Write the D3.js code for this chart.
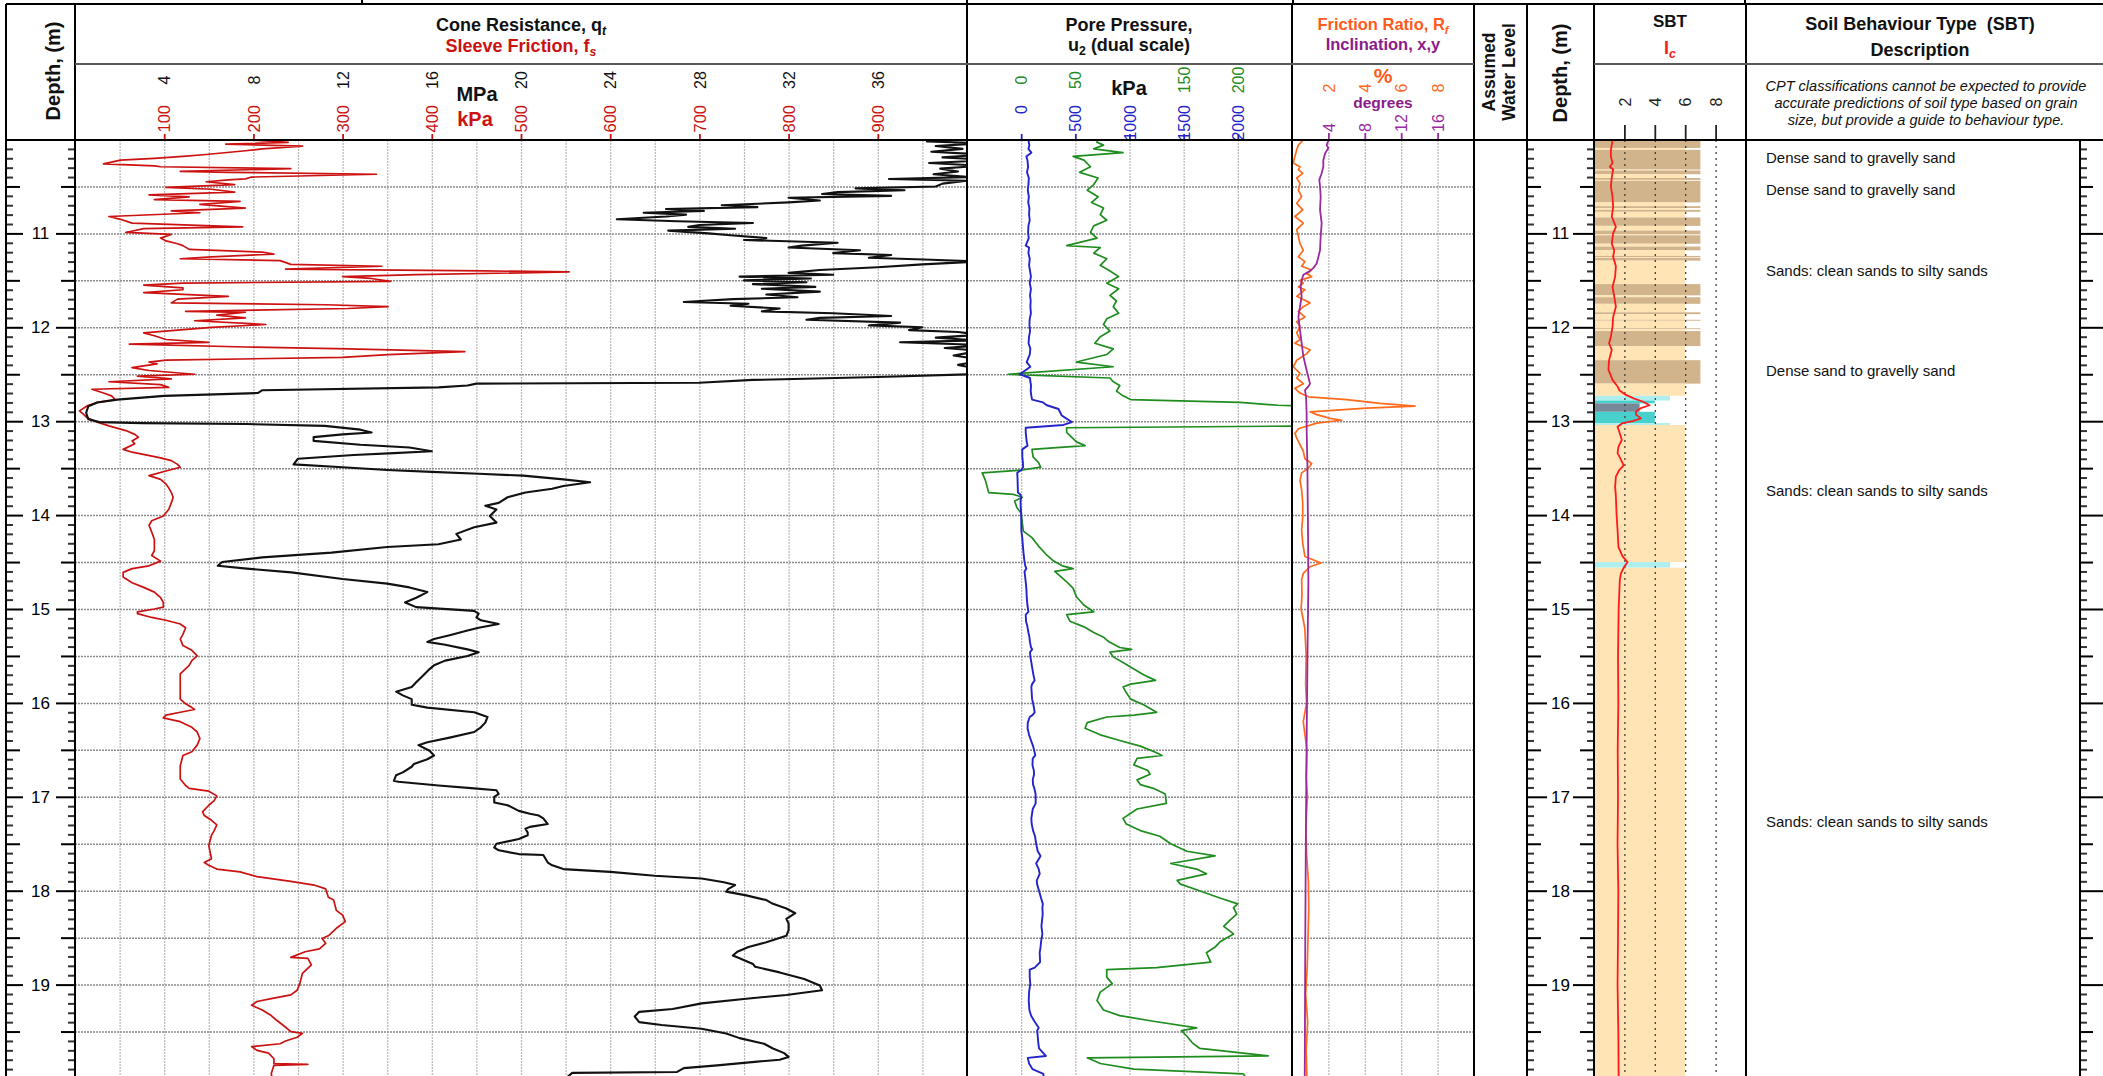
<!DOCTYPE html>
<html>
<head>
<meta charset="utf-8">
<script src="https://cdn.jsdelivr.net/npm/d3@7"></script>
<style>
html,body{margin:0;padding:0;background:#fff;}
svg{display:block;}
text{font-family:"Liberation Sans",Arial,Helvetica,sans-serif;}
</style>
</head>
<body>
<svg id="log" width="2103" height="1076"></svg>
<script>
// ---------- CPT log data (depth in m, value) ----------
const qtData = [[10.00,39.0],[10.02,38.2],[10.04,40.6],[10.07,38.6],[10.10,39.8],[10.13,38.4],[10.16,40.8],[10.19,38.9],[10.22,41.0],[10.25,38.3],[10.28,40.6],[10.31,38.8],[10.34,39.6],[10.37,38.5],[10.40,40.2],[10.42,36.5],[10.44,40.0],[10.47,38.9],[10.50,38.6],[10.52,35.0],[10.54,37.2],[10.56,34.2],[10.58,33.5],[10.60,36.6],[10.62,32.0],[10.65,33.4],[10.67,32.0],[10.70,29.0],[10.72,30.6],[10.74,26.5],[10.76,28.2],[10.78,25.5],[10.80,27.4],[10.82,26.5],[10.85,24.3],[10.87,27.0],[10.89,30.4],[10.91,28.0],[10.93,27.5],[10.95,29.6],[10.97,26.6],[11.00,28.4],[11.02,29.4],[11.05,31.0],[11.07,30.0],[11.10,34.2],[11.13,32.6],[11.15,32.0],[11.18,35.2],[11.21,34.0],[11.23,36.6],[11.26,35.6],[11.28,38.4],[11.30,40.5],[11.33,38.0],[11.36,36.0],[11.39,33.4],[11.42,32.0],[11.44,34.0],[11.46,29.8],[11.48,33.0],[11.50,30.0],[11.52,32.8],[11.54,30.4],[11.57,33.2],[11.59,30.8],[11.62,33.4],[11.65,31.0],[11.68,32.4],[11.70,29.5],[11.73,27.3],[11.75,30.2],[11.77,29.4],[11.80,31.6],[11.83,30.8],[11.85,34.0],[11.88,36.6],[11.90,33.4],[11.92,32.8],[11.95,37.0],[11.98,35.6],[12.00,38.0],[12.03,37.4],[12.05,39.6],[12.08,40.6],[12.11,38.6],[12.14,40.4],[12.16,37.0],[12.19,40.8],[12.22,39.0],[12.25,40.6],[12.30,39.4],[12.35,40.8],[12.40,39.6],[12.45,40.6],[12.50,40.2],[12.53,36.0],[12.56,30.4],[12.59,28.0],[12.60,18.0],[12.62,17.6],[12.64,16.3],[12.67,8.4],[12.70,8.2],[12.73,4.0],[12.77,1.9],[12.80,1.0],[12.84,0.6],[12.91,0.5],[12.98,0.6],[13.01,1.1],[13.02,3.0],[13.03,7.7],[13.05,11.2],[13.09,12.8],[13.12,13.3],[13.14,12.0],[13.17,10.7],[13.21,10.7],[13.25,12.8],[13.28,15.0],[13.32,16.0],[13.34,14.3],[13.36,12.5],[13.40,10.0],[13.46,9.8],[13.49,12.0],[13.52,14.0],[13.54,16.0],[13.56,18.1],[13.58,20.1],[13.62,21.9],[13.65,23.1],[13.69,21.9],[13.72,21.4],[13.76,20.2],[13.81,19.4],[13.87,19.0],[13.90,18.4],[13.94,18.9],[14.01,18.6],[14.08,18.9],[14.13,17.9],[14.20,17.1],[14.26,17.3],[14.31,16.3],[14.34,14.0],[14.40,11.5],[14.45,8.4],[14.50,6.6],[14.54,6.4],[14.57,7.7],[14.61,9.7],[14.68,12.0],[14.73,14.0],[14.77,15.0],[14.82,15.8],[14.88,15.3],[14.93,14.8],[14.98,15.3],[15.02,17.9],[15.05,18.1],[15.09,18.0],[15.12,18.2],[15.16,19.0],[15.20,18.1],[15.23,17.6],[15.28,16.8],[15.32,16.1],[15.35,15.8],[15.38,16.6],[15.43,17.6],[15.46,18.1],[15.50,17.6],[15.55,16.6],[15.60,16.1],[15.64,15.9],[15.71,15.6],[15.78,15.3],[15.83,15.1],[15.88,14.4],[15.92,14.7],[15.96,15.1],[16.02,15.1],[16.05,15.8],[16.10,17.9],[16.15,18.5],[16.21,18.4],[16.26,18.2],[16.31,17.9],[16.37,16.8],[16.42,15.8],[16.45,15.4],[16.51,15.9],[16.56,16.1],[16.60,15.8],[16.65,15.2],[16.68,15.1],[16.74,14.7],[16.77,14.4],[16.83,14.3],[16.84,14.5],[16.88,16.3],[16.91,17.9],[16.93,18.9],[16.97,19.0],[17.00,18.8],[17.06,18.8],[17.09,19.4],[17.15,19.9],[17.18,20.4],[17.20,20.8],[17.23,21.0],[17.29,21.2],[17.32,20.4],[17.34,20.2],[17.38,20.3],[17.41,20.3],[17.45,19.9],[17.50,18.9],[17.54,18.8],[17.57,19.0],[17.61,19.9],[17.62,21.0],[17.70,21.2],[17.73,21.4],[17.77,21.9],[17.80,24.0],[17.84,26.0],[17.87,28.1],[17.91,29.1],[17.94,29.6],[17.98,29.3],[18.01,29.2],[18.05,30.1],[18.10,31.0],[18.14,31.3],[18.19,31.9],[18.24,32.3],[18.30,31.9],[18.35,32.0],[18.42,32.0],[18.48,31.9],[18.55,31.0],[18.60,30.2],[18.65,29.7],[18.69,29.5],[18.72,29.8],[18.78,30.4],[18.81,30.5],[18.87,31.6],[18.94,32.7],[19.01,33.4],[19.06,33.5],[19.11,31.9],[19.15,30.1],[19.20,28.1],[19.26,26.8],[19.29,25.3],[19.34,25.1],[19.40,25.3],[19.43,26.3],[19.47,28.1],[19.52,29.2],[19.57,29.8],[19.63,30.9],[19.68,31.3],[19.73,31.8],[19.77,32.0],[19.80,31.6],[19.82,30.6],[19.86,28.8],[19.89,27.3],[19.93,27.0],[19.94,22.3],[20.00,22.0]];

const fsData = [[10.00,191],[10.03,239],[10.05,169],[10.07,255],[10.10,210],[10.12,191],[10.16,147],[10.18,121],[10.20,89],[10.22,51],[10.26,32],[10.28,89],[10.29,96],[10.31,242],[10.34,118],[10.35,172],[10.37,338],[10.40,198],[10.42,191],[10.43,172],[10.45,147],[10.48,179],[10.51,102],[10.53,153],[10.56,179],[10.59,83],[10.61,128],[10.64,89],[10.66,185],[10.69,140],[10.73,191],[10.76,108],[10.78,140],[10.82,38],[10.85,51],[10.89,64],[10.93,188],[10.95,77],[10.99,57],[11.01,108],[11.05,96],[11.08,102],[11.11,115],[11.13,121],[11.17,128],[11.20,210],[11.22,223],[11.25,153],[11.27,118],[11.29,230],[11.33,242],[11.35,344],[11.38,236],[11.40,459],[11.41,554],[11.44,383],[11.46,300],[11.48,332],[11.51,354],[11.53,121],[11.55,77],[11.58,121],[11.60,121],[11.63,77],[11.67,172],[11.70,115],[11.74,108],[11.76,281],[11.78,351],[11.80,306],[11.83,124],[11.84,191],[11.87,159],[11.90,191],[11.93,134],[11.97,214],[12.00,153],[12.03,115],[12.06,77],[12.09,89],[12.13,102],[12.16,150],[12.18,61],[12.21,191],[12.23,306],[12.26,437],[12.29,351],[12.32,300],[12.35,102],[12.37,83],[12.39,92],[12.43,64],[12.46,83],[12.50,134],[12.52,70],[12.55,108],[12.58,38],[12.61,96],[12.64,105],[12.66,19],[12.70,32],[12.73,41],[12.77,45],[12.80,25],[12.84,13],[12.89,5],[12.93,10],[12.96,13],[13.01,25],[13.05,38],[13.10,57],[13.14,67],[13.17,71],[13.21,64],[13.24,67],[13.30,54],[13.33,64],[13.39,96],[13.42,108],[13.46,115],[13.49,118],[13.53,102],[13.58,83],[13.62,96],[13.67,102],[13.71,105],[13.76,108],[13.81,110],[13.87,108],[13.94,105],[14.01,99],[14.06,86],[14.11,83],[14.18,86],[14.26,89],[14.31,89],[14.38,89],[14.43,86],[14.49,96],[14.54,83],[14.57,64],[14.61,54],[14.66,54],[14.72,64],[14.77,77],[14.82,89],[14.88,96],[14.93,99],[14.98,99],[15.00,89],[15.03,70],[15.05,70],[15.09,86],[15.12,102],[15.16,118],[15.20,124],[15.27,121],[15.32,118],[15.39,121],[15.44,131],[15.50,137],[15.55,131],[15.60,128],[15.69,118],[15.82,118],[15.96,118],[16.01,124],[16.05,131],[16.07,134],[16.10,118],[16.13,102],[16.16,99],[16.20,118],[16.26,131],[16.31,137],[16.38,140],[16.45,137],[16.52,131],[16.56,121],[16.67,118],[16.81,118],[16.88,124],[16.91,128],[16.94,150],[16.99,159],[17.04,156],[17.09,150],[17.16,143],[17.20,145],[17.25,153],[17.30,159],[17.36,156],[17.41,153],[17.52,150],[17.66,153],[17.70,145],[17.73,150],[17.77,159],[17.80,185],[17.85,204],[17.90,242],[17.94,268],[17.98,281],[18.07,284],[18.10,290],[18.21,293],[18.26,300],[18.33,303],[18.40,293],[18.48,284],[18.51,277],[18.56,281],[18.62,274],[18.65,258],[18.71,242],[18.72,261],[18.79,265],[18.88,255],[18.99,252],[19.06,249],[19.11,242],[19.15,220],[19.18,204],[19.22,198],[19.27,210],[19.33,220],[19.38,226],[19.43,233],[19.50,242],[19.52,255],[19.56,249],[19.60,236],[19.63,230],[19.66,198],[19.70,204],[19.73,217],[19.79,223],[19.84,223],[19.85,261],[19.86,223],[19.95,220],[20.00,221]];

const u2Data = [[10.00,71],[10.03,70],[10.06,76],[10.10,67],[10.14,94],[10.18,48],[10.22,58],[10.29,64],[10.35,54],[10.41,71],[10.48,67],[10.54,61],[10.61,71],[10.67,65],[10.73,76],[10.80,73],[10.86,79],[10.92,67],[10.99,64],[11.05,70],[11.13,42],[11.15,73],[11.21,67],[11.27,79],[11.34,73],[11.40,82],[11.46,90],[11.53,79],[11.59,90],[11.66,82],[11.72,88],[11.78,85],[11.85,90],[11.91,79],[11.97,76],[12.04,82],[12.10,73],[12.17,68],[12.23,85],[12.29,79],[12.37,51],[12.42,85],[12.50,-12],[12.54,82],[12.58,85],[12.62,91],[12.68,88],[12.73,94],[12.77,101],[12.80,202],[12.83,237],[12.87,345],[12.94,375],[13.01,468],[13.04,390],[13.07,42],[13.12,42],[13.22,51],[13.26,59],[13.30,10],[13.38,11],[13.44,16],[13.49,18],[13.52,1],[13.55,-36],[13.63,-33],[13.76,-30],[13.78,-7],[13.81,1],[13.85,-6],[13.92,-4],[13.98,0],[14.08,1],[14.17,2],[14.24,10],[14.33,16],[14.43,24],[14.49,30],[14.54,38],[14.57,48],[14.60,31],[14.65,36],[14.71,42],[14.78,48],[14.87,51],[14.96,58],[15.03,67],[15.06,42],[15.13,45],[15.19,58],[15.25,67],[15.30,76],[15.35,81],[15.41,91],[15.43,102],[15.46,82],[15.51,85],[15.57,94],[15.64,104],[15.70,113],[15.76,124],[15.80,101],[15.83,94],[15.89,97],[15.96,101],[16.02,113],[16.10,125],[16.13,104],[16.15,79],[16.21,61],[16.27,59],[16.34,73],[16.40,91],[16.46,110],[16.53,125],[16.56,130],[16.59,107],[16.66,104],[16.72,117],[16.76,119],[16.82,107],[16.87,110],[16.91,122],[16.97,133],[17.07,134],[17.13,107],[17.23,94],[17.29,97],[17.36,110],[17.42,128],[17.50,138],[17.58,153],[17.63,179],[17.71,138],[17.77,162],[17.82,171],[17.89,144],[17.93,147],[17.99,162],[18.08,184],[18.14,200],[18.18,196],[18.25,199],[18.31,193],[18.38,187],[18.46,196],[18.54,184],[18.60,179],[18.66,171],[18.76,175],[18.82,125],[18.84,79],[18.92,79],[18.99,84],[19.08,73],[19.17,70],[19.27,76],[19.33,91],[19.39,122],[19.46,162],[19.49,148],[19.55,153],[19.62,158],[19.68,165],[19.76,228],[19.78,61],[19.84,73],[19.90,104],[19.95,205],[20.00,208]];

const rfData = [[10.01,0.59],[10.06,0.35],[10.11,0.26],[10.18,0.16],[10.25,0.07],[10.29,0.44],[10.32,0.35],[10.36,0.59],[10.41,0.26],[10.47,0.44],[10.54,0.35],[10.61,0.53],[10.68,0.26],[10.75,0.59],[10.82,0.16],[10.89,0.62],[10.96,0.26],[11.03,0.35],[11.11,0.44],[11.18,0.62],[11.25,0.35],[11.30,0.71],[11.35,0.53],[11.39,1.08],[11.43,0.81],[11.46,1.08],[11.50,0.44],[11.53,0.62],[11.57,0.35],[11.60,0.71],[11.67,0.26],[11.74,0.99],[11.78,0.62],[11.83,0.35],[11.89,0.71],[11.94,0.26],[11.99,0.44],[12.06,0.26],[12.13,0.44],[12.17,0.16],[12.24,0.99],[12.28,0.81],[12.35,0.26],[12.42,0.07],[12.49,0.44],[12.54,0.26],[12.60,0.62],[12.65,0.16],[12.70,0.44],[12.74,0.90],[12.77,3.0],[12.81,4.84],[12.84,6.76],[12.86,4.1],[12.90,0.99],[12.93,1.36],[12.97,2.09],[12.99,2.73],[13.02,1.36],[13.08,0.35],[13.13,0.16],[13.18,0.26],[13.25,0.44],[13.32,0.62],[13.40,0.71],[13.45,1.08],[13.50,0.90],[13.55,0.53],[13.63,0.44],[13.73,0.53],[13.87,0.59],[14.02,0.59],[14.16,0.53],[14.30,0.59],[14.44,0.71],[14.51,1.60],[14.55,0.99],[14.62,0.62],[14.69,0.53],[14.85,0.55],[15.00,0.50],[15.20,0.70],[15.50,0.78],[15.80,0.75],[16.00,0.80],[16.20,0.62],[16.50,0.82],[16.80,0.78],[17.00,0.85],[17.30,0.76],[17.60,0.80],[17.90,0.90],[18.20,0.92],[18.50,0.88],[18.80,0.84],[19.10,0.75],[19.40,0.86],[19.70,0.78],[20.00,0.82]];

const inclData = [[10.01,3.99],[10.06,3.81],[10.09,3.99],[10.15,3.63],[10.22,3.44],[10.29,3.44],[10.36,3.26],[10.43,3.00],[10.50,3.08],[10.61,3.15],[10.75,3.08],[10.89,3.26],[11.03,3.15],[11.18,3.08],[11.25,2.90],[11.32,2.71],[11.37,2.34],[11.41,1.80],[11.44,1.25],[11.50,1.06],[11.57,0.95],[11.67,1.06],[11.78,0.88],[11.89,0.70],[12.03,0.88],[12.17,1.06],[12.31,1.25],[12.46,1.61],[12.60,1.98],[12.63,1.80],[12.67,1.43],[12.74,1.54],[12.92,1.61],[13.09,1.61],[13.45,1.69],[13.80,1.72],[14.16,1.76],[14.69,1.80],[15.50,1.70],[16.50,1.60],[17.50,1.52],[18.50,1.46],[19.50,1.42],[20.00,1.40]];

const icData = [[10.01,1.22],[10.11,1.11],[10.18,1.11],[10.25,1.22],[10.29,1.04],[10.32,1.26],[10.40,1.17],[10.50,1.11],[10.61,1.22],[10.72,1.26],[10.82,1.17],[10.93,1.44],[11.00,1.26],[11.11,1.17],[11.18,1.33],[11.25,1.26],[11.35,1.44],[11.46,1.39],[11.57,1.22],[11.67,1.33],[11.78,1.44],[11.89,1.26],[11.99,1.22],[12.10,1.11],[12.17,0.99],[12.24,1.17],[12.35,0.99],[12.45,0.95],[12.56,1.22],[12.63,1.55],[12.67,1.66],[12.72,2.10],[12.76,2.65],[12.79,3.20],[12.83,3.65],[12.86,3.09],[12.90,2.76],[12.93,2.76],[12.97,3.09],[13.00,2.54],[13.02,1.88],[13.06,1.55],[13.11,1.66],[13.20,1.83],[13.27,1.61],[13.34,1.55],[13.41,1.77],[13.47,1.95],[13.52,1.66],[13.59,1.44],[13.70,1.39],[13.80,1.44],[13.98,1.48],[14.16,1.55],[14.34,1.61],[14.44,1.88],[14.50,2.21],[14.55,1.99],[14.62,1.77],[14.69,1.70],[15.00,1.62],[15.50,1.58],[16.00,1.60],[16.50,1.56],[17.00,1.58],[17.50,1.55],[18.00,1.60],[18.50,1.58],[19.00,1.55],[19.50,1.60],[20.00,1.62]];

// SBT zones: [top, bottom, zone]
const sbtLayers = [[10.00,10.09,7],[10.09,10.11,6],[10.11,10.32,7],[10.32,10.33,6],[10.33,10.37,7],[10.37,10.41,6],[10.41,10.43,7],[10.43,10.44,6],[10.44,10.67,7],[10.67,10.71,6],[10.71,10.73,7],[10.73,10.75,6],[10.75,10.77,7],[10.77,10.83,6],[10.83,10.92,7],[10.92,10.97,6],[10.97,11.01,7],[11.01,11.02,6],[11.02,11.11,7],[11.11,11.14,6],[11.14,11.18,7],[11.18,11.24,6],[11.24,11.255,7],[11.255,11.262,6],[11.262,11.29,7],[11.29,11.54,6],[11.54,11.66,7],[11.66,11.68,6],[11.68,11.75,7],[11.75,11.84,6],[11.84,11.86,7],[11.86,11.92,6],[11.92,11.93,7],[11.93,12.01,6],[12.01,12.02,7],[12.02,12.04,6],[12.04,12.20,7],[12.20,12.35,6],[12.35,12.60,7],[12.60,12.73,6],[12.73,12.78,5],[12.78,12.81,4],[12.81,12.90,3],[12.90,13.02,4],[13.02,13.04,5],[13.04,14.50,6],[14.50,14.56,5],[14.56,20.00,6]];
const sbtColours = {3:"#778899",4:"#48d1cc",5:"#afeeee",6:"#ffe4b5",7:"#d2b48c"};

const sbtDescriptions = [[10.19,"Dense sand to gravelly sand"],[10.54,"Dense sand to gravelly sand"],[11.40,"Sands: clean sands to silty sands"],[12.46,"Dense sand to gravelly sand"],[13.74,"Sands: clean sands to silty sands"],[17.27,"Sands: clean sands to silty sands"]];

// tick label values
const mpaTicks = [4,8,12,16,20,24,28,32,36];
const kpaTicks = [100,200,300,400,500,600,700,800,900];
const u2SmallTicks = [0,50,150,200];
const u2LargeTicks = [0,500,1000,1500,2000];
const rfTicks = [2,4,6,8];
const inclTicks = [4,8,12,16];
const icTicks = [2,4,6,8];
const depthLabels = [11,12,13,14,15,16,17,18,19];

// ---------- layout ----------
const PT = 140, PB = 1076;
const COL = {
  depthL:[6,75], main:[75,967], pore:[967,1292], fric:[1292,1474],
  water:[1474,1527], depthR:[1527,1594], sbt:[1594,1746], desc:[1746,2080], depthX:[2080,2103]
};
const FONT = '"Liberation Sans", Arial, Helvetica, sans-serif';

const svg = d3.select("#log");
svg.append("rect").attr("width",2103).attr("height",1076).attr("fill","#fff");

const y = d3.scaleLinear().domain([10,20]).range([139.5,1078.5]);
const xQt = d3.scaleLinear().domain([0,40]).range(COL.main);
const xFs = d3.scaleLinear().domain([0,1000]).range(COL.main);
const xU2L = d3.scaleLinear().domain([-500,2500]).range(COL.pore);
const xU2S = d3.scaleLinear().domain([-50,250]).range(COL.pore);
const xRf = d3.scaleLinear().domain([0,10]).range(COL.fric);
const xInc = d3.scaleLinear().domain([0,20]).range(COL.fric);
const xIc = d3.scaleLinear().domain([0,10]).range(COL.sbt);

// clip paths per panel
const defs = svg.append("defs");
function clip(id, c) {
  defs.append("clipPath").attr("id", id).append("rect")
    .attr("x", c[0]).attr("y", PT).attr("width", c[1]-c[0]).attr("height", PB-PT);
  return `url(#${id})`;
}
const clipMain = clip("c-main", COL.main);
const clipPore = clip("c-pore", COL.pore);
const clipFric = clip("c-fric", COL.fric);
const clipSbt = clip("c-sbt", COL.sbt);

// ---------- SBT zone bars ----------
svg.append("g").attr("clip-path", clipSbt)
  .selectAll("rect").data(sbtLayers).join("rect")
  .attr("x", xIc(0))
  .attr("width", d => xIc(d[2]) - xIc(0))
  .attr("y", d => y(d[0]))
  .attr("height", d => y(d[1]) - y(d[0]))
  .attr("fill", d => sbtColours[d[2]]);

// ---------- grids ----------
const halfMetres = d3.range(21, 40).map(i => i/2);
function vGrid(scale, values, colour, width, dash) {
  const g = svg.append("g").attr("transform", `translate(0,${PT})`)
    .call(d3.axisBottom(scale).tickValues(values).tickSize(PB-PT).tickFormat(""));
  g.select(".domain").remove();
  g.selectAll("line").attr("stroke", colour).attr("stroke-width", width).attr("stroke-dasharray", dash);
}
function hGrid(c) {
  const g = svg.append("g").attr("transform", `translate(${c[0]},0)`)
    .call(d3.axisRight(y).tickValues(halfMetres).tickSize(c[1]-c[0]).tickFormat(""));
  g.select(".domain").remove();
  g.selectAll("line").attr("stroke", "#8c8c8c").attr("stroke-width", 1.5).attr("stroke-dasharray", "2,1");
}
vGrid(xQt, d3.range(2, 40, 2), "#b8b8b8", 1.2, "2,1");
vGrid(xU2L, u2LargeTicks, "#b8b8b8", 1.2, "2,1");
vGrid(xRf, rfTicks, "#b8b8b8", 1.2, "2,1");
hGrid(COL.main); hGrid(COL.pore); hGrid(COL.fric);
vGrid(xIc, icTicks, "#333", 1.2, "2,4");

// ---------- curves ----------
function curve(data, xs, colour, width, clipUrl) {
  svg.append("path").datum(data)
    .attr("clip-path", clipUrl)
    .attr("fill", "none").attr("stroke", colour).attr("stroke-width", width)
    .attr("stroke-linejoin", "round")
    .attr("d", d3.line().x(d => xs(d[1])).y(d => y(d[0])));
}
curve(fsData, xFs, "#cc1111", 1.7, clipMain);
curve(qtData, xQt, "#111", 2.1, clipMain);
curve(u2Data, xU2S, "#1f8c1f", 1.7, clipPore);
curve(u2Data, xU2L, "#2424cc", 1.9, clipPore);
curve(rfData, xRf, "#ff6a1c", 1.7, clipFric);
curve(inclData, xInc, "#9a2aa0", 1.8, clipFric);
curve(icData, xIc, "#ff1a1a", 1.8, clipSbt);

// ---------- descriptions ----------
svg.append("g").selectAll("text").data(sbtDescriptions).join("text")
  .attr("x", 1766).attr("y", d => y(d[0])).attr("dy", "0.35em")
  .attr("font-size", 15).attr("fill", "#111")
  .text(d => d[1]);

// ---------- depth columns ----------
const allDepth = d3.range(101, 200).map(i => i/10);
const isMajor = d => Math.abs(d - Math.round(d)) < 1e-6;
const isHalf = d => !isMajor(d) && Math.abs(d*2 - Math.round(d*2)) < 1e-6;
const majD = allDepth.filter(isMajor);
const midD = allDepth.filter(isHalf);
const minD = allDepth.filter(d => !isMajor(d) && !isHalf(d));

function depthTicks(x, dir, sizes) {
  [[minD, sizes[0], 2, "#333"], [midD, sizes[1], 2, "#000"], [majD, sizes[2], 2, "#000"]].forEach(([vals, len, w, col]) => {
    const ax = (dir === "right" ? d3.axisRight(y) : d3.axisLeft(y)).tickValues(vals).tickSize(len).tickFormat("");
    const g = svg.append("g").attr("transform", `translate(${x},0)`).call(ax);
    g.select(".domain").remove();
    g.selectAll("line").attr("stroke", col).attr("stroke-width", w);
  });
}
function depthLabelAxis(c) {
  const g = svg.append("g").attr("transform", `translate(${c[1]},0)`)
    .call(d3.axisLeft(y).tickValues(depthLabels).tickSize(0).tickFormat(d3.format("d")));
  g.select(".domain").remove();
  g.selectAll("text").attr("x", -(c[1]-c[0])/2).attr("text-anchor", "middle")
    .attr("fill", "#000").style("font", `17px ${FONT}`);
}
depthTicks(COL.depthL[0], "right", [7, 14, 17]);
depthTicks(COL.depthL[1], "left", [7, 14, 19]);
depthLabelAxis(COL.depthL);
depthTicks(COL.depthR[0], "right", [7, 14, 20]);
depthTicks(COL.depthR[1], "left", [7, 14, 21]);
depthLabelAxis(COL.depthR);
depthTicks(COL.depthX[0]+1, "right", [6, 12, 22]);

// ---------- header scales ----------
function labelAxis(scale, values, o) {
  const g = svg.append("g").attr("transform", `translate(0,${PT})`)
    .call(d3.axisTop(scale).tickValues(values).tickSize(o.tick).tickPadding(0).tickFormat(d3.format("d")));
  g.select(".domain").remove();
  g.selectAll(".tick line").attr("stroke", o.colour).attr("stroke-width", 1.8).attr("opacity", o.tick ? 1 : 0);
  g.selectAll(".tick text")
    .attr("x", 0).attr("y", 0).attr("dy", "0.35em")
    .attr("transform", `translate(0,${o.labelY - PT}) rotate(-90)`)
    .attr("text-anchor", o.anchor)
    .attr("fill", o.colour)
    .style("font", `${o.size || 16}px ${FONT}`);
}
labelAxis(xQt, mpaTicks, {tick:0, colour:"#111", labelY:80, anchor:"middle"});
labelAxis(xFs, kpaTicks, {tick:6, colour:"#cc1111", labelY:105, anchor:"end", size:16.5});
labelAxis(xU2S, u2SmallTicks, {tick:0, colour:"#1f8c1f", labelY:80, anchor:"middle"});
labelAxis(xU2L, u2LargeTicks, {tick:6, colour:"#2424cc", labelY:105, anchor:"end"});
labelAxis(xRf, rfTicks, {tick:0, colour:"#ff6a1c", labelY:88, anchor:"middle"});
labelAxis(xInc, inclTicks, {tick:7, colour:"#9a2aa0", labelY:132, anchor:"start"});
labelAxis(xIc, icTicks, {tick:15, colour:"#222", labelY:102, anchor:"middle"});

// ---------- frame ----------
const frame = svg.append("g").attr("stroke", "#000").attr("stroke-width", 2);
frame.append("line").attr("x1", 6).attr("x2", 2103).attr("y1", 4).attr("y2", 4);
frame.append("line").attr("x1", 6).attr("x2", 2103).attr("y1", PT).attr("y2", PT);
[362, 967, 1293, 1745].forEach(x => frame.append("line").attr("x1", x).attr("x2", x).attr("y1", 0).attr("y2", 4));
[COL.depthL[0], COL.main[0], COL.pore[0], COL.fric[0], COL.water[0], COL.depthR[0], COL.sbt[0], COL.sbt[1]]
  .forEach(x => frame.append("line").attr("x1", x).attr("x2", x).attr("y1", 4).attr("y2", PB));
frame.append("line").attr("x1", COL.desc[1]).attr("x2", COL.desc[1]).attr("y1", PT).attr("y2", PB);
const sub = svg.append("g").attr("stroke", "#5a5a5a").attr("stroke-width", 2);
[[75,1474],[1594,2103]].forEach(s => sub.append("line").attr("x1", s[0]).attr("x2", s[1]).attr("y1", 64).attr("y2", 64));

// ---------- header text ----------
function title(x, yb, parts, size, anchor) {
  const t = svg.append("text").attr("x", x).attr("y", yb).attr("text-anchor", anchor || "middle")
    .attr("font-weight", "bold").attr("font-size", size);
  parts.forEach(p => {
    const s = t.append("tspan").text(p.t).attr("fill", p.c || "#111");
    if (p.sub) s.attr("font-size", size*0.68).attr("dy", 4).attr("font-style", p.it ? "italic" : "normal");
  });
  return t;
}
title(521, 31, [{t:"Cone Resistance, q"},{t:"t", sub:true, it:true}], 18);
title(521, 52, [{t:"Sleeve Friction, f", c:"#cc1111"},{t:"s", sub:true, it:true, c:"#cc1111"}], 18);
title(1129, 31, [{t:"Pore Pressure,"}], 18);
title(1129, 51, [{t:"u"},{t:"2", sub:true},{t:" (dual scale)"}], 18).select("tspan:nth-child(3)").attr("dy", -4);
title(1383, 30, [{t:"Friction Ratio, R", c:"#ff5a1a"},{t:"f", sub:true, it:true, c:"#ff5a1a"}], 16.5);
title(1383, 50, [{t:"Inclination, x,y", c:"#8b1a8b"}], 16.5);
title(1670, 27, [{t:"SBT"}], 17);
title(1670, 54, [{t:"I", c:"#ff1a1a"},{t:"c", sub:true, it:true, c:"#ff1a1a"}], 18);
title(1920, 30, [{t:"Soil Behaviour Type  (SBT)"}], 18).style("white-space", "pre");
title(1920, 56, [{t:"Description"}], 18);

// unit labels
title(477, 101, [{t:"MPa"}], 20);
title(475, 126, [{t:"kPa", c:"#cc1111"}], 20);
title(1129, 95, [{t:"kPa"}], 20);
title(1383, 83, [{t:"%", c:"#ff5a1a"}], 21);
title(1383, 108, [{t:"degrees", c:"#8b1a8b"}], 15.5);

// italic note
const note = ["CPT classifications cannot be expected to provide",
              "accurate predictions of soil type based on grain",
              "size, but provide a guide to behaviour type."];
svg.append("g").selectAll("text").data(note).join("text")
  .attr("x", 1926).attr("y", (d, i) => 91 + i*17).attr("text-anchor", "middle")
  .attr("font-style", "italic").attr("font-size", 14.5).attr("fill", "#111").text(d => d);

// rotated column headers
function vtext(x, yc, str, size) {
  svg.append("text").attr("transform", `translate(${x},${yc}) rotate(-90)`)
    .attr("text-anchor", "middle").attr("dy", "0.35em")
    .attr("font-weight", "bold").attr("font-size", size).attr("fill", "#111").text(str);
}
vtext(53, 71, "Depth, (m)", 20);
vtext(1560, 73, "Depth, (m)", 20);
vtext(1489, 72, "Assumed", 17.5);
vtext(1509, 72, "Water Level", 17.5);
</script>
</body>
</html>
